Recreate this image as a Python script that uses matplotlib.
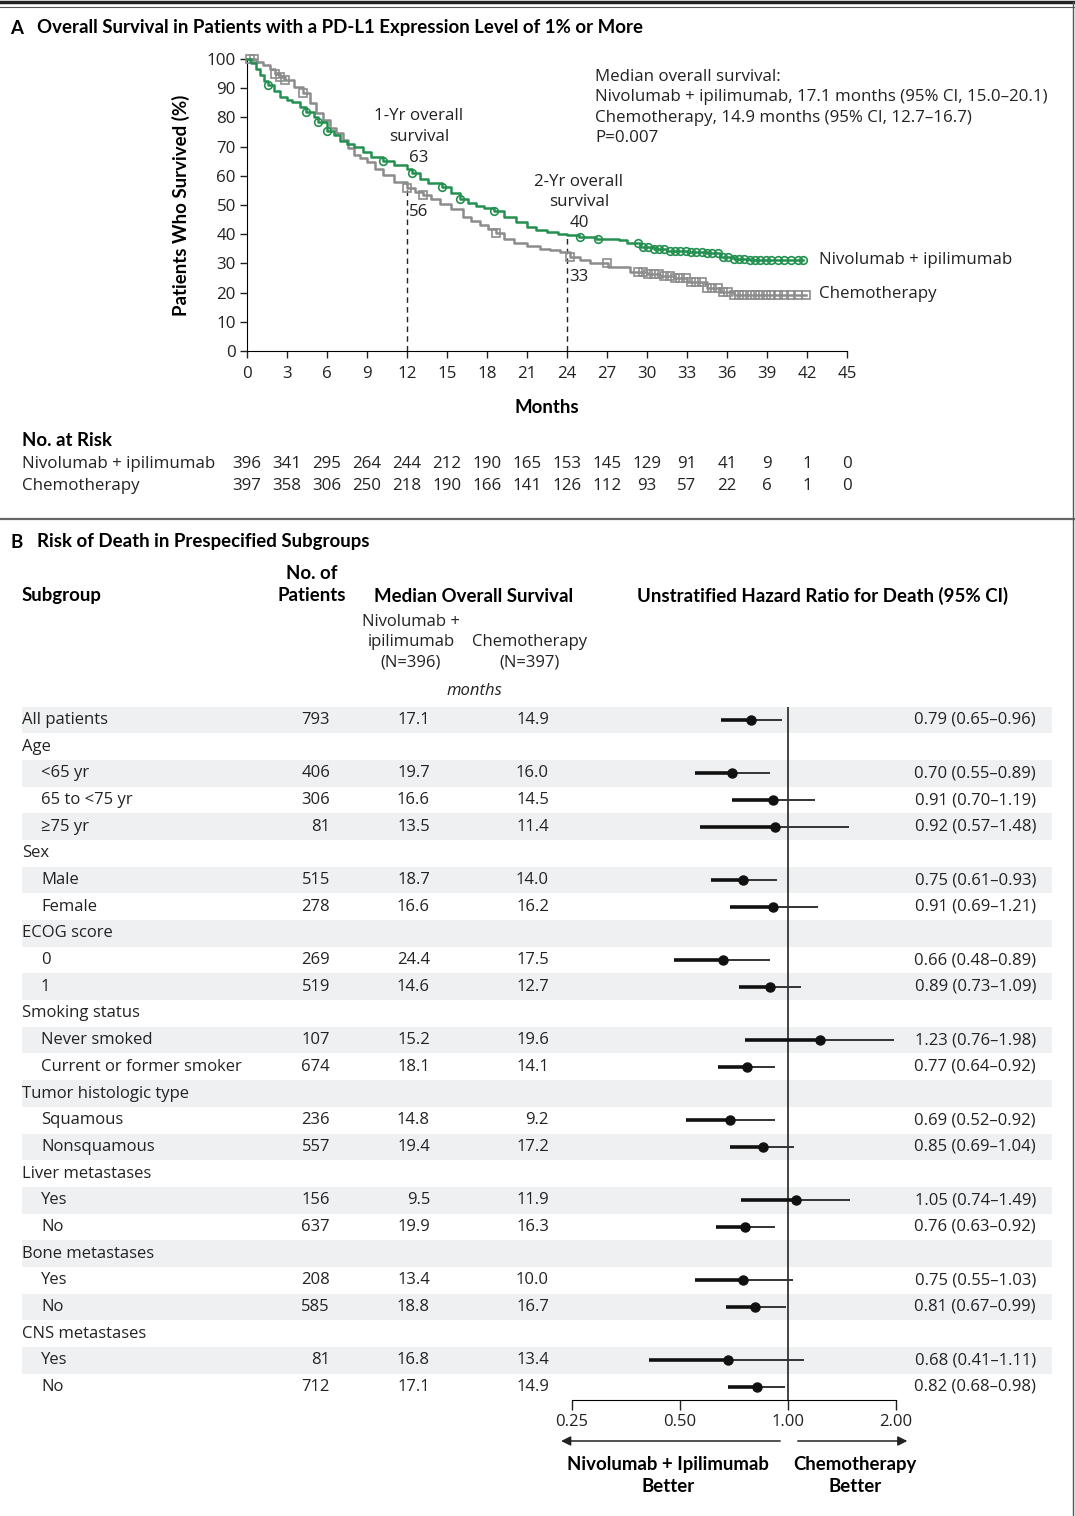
import numpy as np
import matplotlib
matplotlib.use("Agg")
import matplotlib.pyplot as plt
import matplotlib.transforms as mtransforms

plt.rcParams['font.family'] = ['Open Sans', 'DejaVu Sans']

W, H = 1075, 1516


def fx(px):
    return px / W


def fy(py):
    return 1 - py / H


# ---- panel A data ----
nivo_t = [0, 0.3, 0.7, 1.0, 1.3, 1.6, 2.0, 2.5, 3.0, 3.4, 4.0, 4.4, 5.0, 5.3, 6.0, 6.5,
          7.0, 7.5, 8.0, 8.7, 9.3, 10.2, 11.0, 12.0, 12.4, 13.0, 13.6, 14.6, 15.3, 16.0,
          16.6, 17.2, 17.8, 18.5, 19.3, 20.2, 21.0, 21.7, 22.5, 23.3, 24.0, 24.9, 26.2,
          27.9, 28.5, 29.5, 30.5, 31.5, 33.0, 34.5, 35.5, 36.5, 37.7, 41.7]
nivo_s = [100, 98.5, 96.5, 94.5, 92.5, 91.1, 89, 87, 86, 85.4, 83.5, 82, 80, 78.5, 75.5, 74,
          72, 71, 70, 68.2, 66.5, 65.2, 63.8, 62.5, 60.8, 59, 57.5, 56.3, 54, 52,
          50.8, 49.8, 49, 48, 46, 44.3, 42.5, 41.4, 40.6, 40.2, 39.7, 39.1, 38.4,
          38, 36.9, 35.7, 35.0, 34.2, 33.8, 33.4, 32.3, 31.6, 31.2, 31.2]
chemo_t = [0, 0.7, 1.2, 1.7, 2.1, 2.5, 2.85, 3.5, 4.2, 4.7, 5.2, 5.7, 6.2, 6.7, 7.2, 7.6,
           8.0, 8.5, 9.0, 9.6, 10.2, 11.0, 12.0, 12.6, 13.2, 13.8, 14.5, 15.3, 16.2, 16.8,
           17.5, 18.1, 18.7, 19.3, 20.0, 21.0, 22.0, 22.7, 23.5, 24.2, 25.0, 25.7, 27.1,
           28.7, 30.0, 31.0, 32.0, 33.0, 34.5, 35.5, 36.5, 41.9]
chemo_s = [100, 99, 98, 96.5, 95, 94, 92.8, 90.5, 88.2, 85, 81.4, 79, 76.3, 74.5, 72.3, 69.5,
           67.1, 66, 64.8, 62.5, 60.3, 58, 55.7, 54.5, 53.4, 52, 50.5, 48.5, 46, 44.5,
           43.2, 41.8, 40.3, 38.5, 37.1, 36, 35.1, 34.6, 34, 32.1, 31, 30, 28.9,
           27.2, 26.4, 25.8, 24.9, 23.5, 21.5, 20.3, 19.2, 19.2]
nivo_cens = [1.6, 4.4, 5.3, 6.0, 10.2, 12.4, 14.6, 16.0, 18.5, 25.0, 26.3, 29.3, 29.7,
             30.1, 30.5, 30.9, 31.3, 31.7, 32.1, 32.5, 32.9, 33.3, 33.7, 34.1, 34.5, 34.9,
             35.3, 35.7, 36.1, 36.5, 36.9, 37.3, 37.7, 38.1, 38.5, 38.9, 39.3, 39.8, 40.3,
             40.8, 41.3, 41.7]
chemo_cens = [0.2, 0.5, 2.1, 2.5, 2.85, 4.2, 12.0, 13.2, 18.7, 24.2, 27.0, 29.3, 29.7,
              30.1, 30.5, 30.9, 31.3, 31.7, 32.1, 32.5, 32.9, 33.3, 33.7, 34.1, 34.5, 34.9,
              35.3, 35.7, 36.1, 36.5, 36.9, 37.3, 37.7, 38.1, 38.5, 38.9, 39.3, 39.8, 40.3,
              40.8, 41.3, 41.9]

risk_months = [0, 3, 6, 9, 12, 15, 18, 21, 24, 27, 30, 33, 36, 39, 42, 45]
risk_nivo = [396, 341, 295, 264, 244, 212, 190, 165, 153, 145, 129, 91, 41, 9, 1, 0]
risk_chemo = [397, 358, 306, 250, 218, 190, 166, 141, 126, 112, 93, 57, 22, 6, 1, 0]

# ---- panel B data ----
labels = ["All patients", "Age", "<65 yr", "65 to <75 yr", "\u226575 yr", "Sex", "Male",
          "Female", "ECOG score", "0", "1", "Smoking status", "Never smoked",
          "Current or former smoker", "Tumor histologic type", "Squamous", "Nonsquamous",
          "Liver metastases", "Yes", "No", "Bone metastases", "Yes", "No",
          "CNS metastases", "Yes", "No"]
indent = [0, 0, 1, 1, 1, 0, 1, 1, 0, 1, 1, 0, 1, 1, 0, 1, 1, 0, 1, 1, 0, 1, 1, 0, 1, 1]
n_pts = ["793", "", "406", "306", "81", "", "515", "278", "", "269", "519", "", "107", "674",
         "", "236", "557", "", "156", "637", "", "208", "585", "", "81", "712"]
med_nivo = ["17.1", "", "19.7", "16.6", "13.5", "", "18.7", "16.6", "", "24.4", "14.6", "",
            "15.2", "18.1", "", "14.8", "19.4", "", "9.5", "19.9", "", "13.4", "18.8", "",
            "16.8", "17.1"]
med_chemo = ["14.9", "", "16.0", "14.5", "11.4", "", "14.0", "16.2", "", "17.5", "12.7", "",
             "19.6", "14.1", "", "9.2", "17.2", "", "11.9", "16.3", "", "10.0", "16.7", "",
             "13.4", "14.9"]
hr = [0.79, None, 0.70, 0.91, 0.92, None, 0.75, 0.91, None, 0.66, 0.89, None, 1.23, 0.77,
      None, 0.69, 0.85, None, 1.05, 0.76, None, 0.75, 0.81, None, 0.68, 0.82]
ci_lo = [0.65, None, 0.55, 0.70, 0.57, None, 0.61, 0.69, None, 0.48, 0.73, None, 0.76, 0.64,
         None, 0.52, 0.69, None, 0.74, 0.63, None, 0.55, 0.67, None, 0.41, 0.68]
ci_hi = [0.96, None, 0.89, 1.19, 1.48, None, 0.93, 1.21, None, 0.89, 1.09, None, 1.98, 0.92,
         None, 0.92, 1.04, None, 1.49, 0.92, None, 1.03, 0.99, None, 1.11, 0.98]

green = '#23904f'
gray = '#8c8c8c'
txt = '#222222'
fs = 12          # table text
fsa = 12.2       # panel A text
fsh = 13.4       # bold headers
bold_font = ['Lato', 'DejaVu Sans']

fig = plt.figure(figsize=(W / 100, H / 100), dpi=100)

# frame lines
fig.add_artist(plt.Line2D([0, 1], [fy(2), fy(2)], color='#222222', lw=2.5))
fig.add_artist(plt.Line2D([0, 1], [fy(7), fy(7)], color='#555555', lw=0.8))
fig.add_artist(plt.Line2D([0, 1], [fy(519), fy(519)], color='#666666', lw=1.6))
fig.add_artist(plt.Line2D([fx(1073), fx(1073)], [0, fy(2)], color='#555555', lw=1.0))

# ---- Panel A ----
fig.text(fx(10), fy(28), "A", fontsize=fsh, fontweight='bold', family=bold_font, va='center')
fig.text(fx(37), fy(28), "Overall Survival in Patients with a PD-L1 Expression Level of 1% or More",
         fontsize=fsh, fontweight='bold', family=bold_font, va='center')

ax = fig.add_axes([fx(247), fy(351), fx(847) - fx(247), fy(59) - fy(351)])
ax.step(chemo_t, chemo_s, where='post', color=gray, lw=1.8, clip_on=False, zorder=3)
ax.step(nivo_t, nivo_s, where='post', color=green, lw=1.8, clip_on=False, zorder=4)
c_idx = np.searchsorted(chemo_t, chemo_cens, side='right') - 1
n_idx = np.searchsorted(nivo_t, nivo_cens, side='right') - 1
ax.plot(chemo_cens, np.array(chemo_s)[c_idx], ls='none', marker='s', ms=5.5, mfc='none',
        mec=gray, mew=1.2, clip_on=False, zorder=3)
ax.plot(nivo_cens, np.array(nivo_s)[n_idx], ls='none', marker='o', ms=5.5, mfc='none',
        mec=green, mew=1.2, clip_on=False, zorder=4)

ax.plot([12, 12], [0, 56], color='#222222', lw=1, ls=(0, (4, 3)))
ax.plot([24, 24], [0, 39], color='#222222', lw=1, ls=(0, (4, 3)))
ax.text(12.9, 73.3, "1-Yr overall\nsurvival\n63", ha='center', va='center', fontsize=fsa,
        linespacing=1.38, color=txt)
ax.text(12.15, 47.6, "56", ha='left', va='center', fontsize=fsa, color=txt)
ax.text(24.9, 51, "2-Yr overall\nsurvival\n40", ha='center', va='center', fontsize=fsa,
        linespacing=1.38, color=txt)
ax.text(24.15, 25.3, "33", ha='left', va='center', fontsize=fsa, color=txt)
ax.text(26.1, 83.4, "Median overall survival:\nNivolumab + ipilimumab, 17.1 months (95% CI, 15.0\u201320.1)\n"
        "Chemotherapy, 14.9 months (95% CI, 12.7\u201316.7)\nP=0.007", ha='left', va='center',
        fontsize=fsa, linespacing=1.38, color=txt)
ax.text(42.9, 31.2, "Nivolumab + ipilimumab", ha='left', va='center', fontsize=fsa, color=txt)
ax.text(42.9, 19.5, "Chemotherapy", ha='left', va='center', fontsize=fsa, color=txt)

ax.set_xlim(0, 45)
ax.set_ylim(0, 100)
ax.set_xticks(range(0, 46, 3))
ax.set_yticks(range(0, 101, 10))
ax.spines['top'].set_visible(False)
ax.spines['right'].set_visible(False)
ax.tick_params(axis='x', direction='out', length=5, width=1, labelsize=fsa, pad=6, colors=txt)
ax.tick_params(axis='y', direction='out', length=5, width=1, labelsize=fsa, pad=3, colors=txt)
ax.set_xlabel("Months", fontsize=fsh, fontweight='bold', family=bold_font, labelpad=12)
ax.set_ylabel("Patients Who Survived (%)", fontsize=fsh, fontweight='bold', family=bold_font,
              labelpad=12)

# number at risk
tr = mtransforms.blended_transform_factory(ax.transData, fig.transFigure)
fig.text(fx(22), fy(440), "No. at Risk", fontsize=fsh, fontweight='bold', family=bold_font,
         va='center')
fig.text(fx(22), fy(464), "Nivolumab + ipilimumab", fontsize=fsa, va='center', color=txt)
fig.text(fx(22), fy(486), "Chemotherapy", fontsize=fsa, va='center', color=txt)
for m, a, b in zip(risk_months, risk_nivo, risk_chemo):
    ax.text(m, fy(464), str(a), transform=tr, ha='center', va='center', fontsize=fsa, color=txt)
    ax.text(m, fy(486), str(b), transform=tr, ha='center', va='center', fontsize=fsa, color=txt)

# ---- Panel B ----
fig.text(fx(10), fy(542), "B", fontsize=fsh, fontweight='bold', family=bold_font, va='center')
fig.text(fx(37), fy(542), "Risk of Death in Prespecified Subgroups", fontsize=fsh,
         fontweight='bold', family=bold_font, va='center')
fig.text(fx(22), fy(596), "Subgroup", fontsize=fsh, fontweight='bold', family=bold_font, va='center')
fig.text(fx(312), fy(584.5), "No. of\nPatients", fontsize=fsh, fontweight='bold', family=bold_font,
         ha='center', va='center', linespacing=1.3)
fig.text(fx(474), fy(596), "Median Overall Survival", fontsize=fsh, fontweight='bold',
         family=bold_font, ha='center', va='center')
fig.text(fx(823), fy(596), "Unstratified Hazard Ratio for Death (95% CI)", fontsize=fsh,
         fontweight='bold', family=bold_font, ha='center', va='center')
fig.text(fx(411), fy(642), "Nivolumab +\nipilimumab\n(N=396)", fontsize=fs, ha='center',
         va='center', linespacing=1.35, color=txt)
fig.text(fx(530), fy(652.5), "Chemotherapy\n(N=397)", fontsize=fs, ha='center', va='center',
         linespacing=1.35, color=txt)
fig.text(fx(474), fy(691), "months", fontsize=fs, style='italic', ha='center', va='center',
         color=txt)

nrow = len(labels)
row_h = 26.68
top_px = 720 - row_h / 2
bot_px = top_px + nrow * row_h

axt = fig.add_axes([0, fy(bot_px), 1, fy(top_px) - fy(bot_px)], zorder=1)
axt.set_xlim(0, W)
axt.set_ylim(nrow - 0.5, -0.5)
axt.axis('off')
for i in range(nrow):
    if i % 2 == 0:
        axt.axhspan(i - 0.5, i + 0.5, xmin=fx(22), xmax=fx(1052), color='#eff0f2', lw=0)
    axt.text(22 + 19 * indent[i], i, labels[i], va='center', fontsize=fs, color=txt)
    axt.text(330, i, n_pts[i], va='center', ha='right', fontsize=fs, color=txt)
    axt.text(430, i, med_nivo[i], va='center', ha='right', fontsize=fs, color=txt)
    axt.text(549, i, med_chemo[i], va='center', ha='right', fontsize=fs, color=txt)
    if hr[i] is not None:
        axt.text(1036, i, "%.2f (%.2f\u2013%.2f)" % (hr[i], ci_lo[i], ci_hi[i]), va='center',
                 ha='right', fontsize=fs, color=txt)

axf = fig.add_axes([fx(572), fy(bot_px), fx(896) - fx(572), fy(top_px) - fy(bot_px)], zorder=2)
axf.patch.set_alpha(0)
axf.set_xscale('log', base=2)
axf.set_xlim(0.25, 2.0)
axf.set_ylim(nrow - 0.5, -0.5)
axf.axvline(1.0, color='#111111', lw=1.1)
for i in range(nrow):
    if hr[i] is None:
        continue
    axf.plot([ci_lo[i], hr[i]], [i, i], color='#111111', lw=2.6, solid_capstyle='butt', clip_on=False)
    axf.plot([hr[i], ci_hi[i]], [i, i], color='#333333', lw=1.4, solid_capstyle='butt', clip_on=False)
    axf.plot(hr[i], i, 'o', color='#111111', ms=6.5, clip_on=False)
for s in ['top', 'right', 'left']:
    axf.spines[s].set_visible(False)
axf.set_yticks([])
axf.set_xticks([0.25, 0.5, 1.0, 2.0])
axf.set_xticklabels(["0.25", "0.50", "1.00", "2.00"])
axf.minorticks_off()
axf.tick_params(axis='x', direction='out', length=7, width=1, labelsize=fs, pad=3, colors=txt)

trf = mtransforms.blended_transform_factory(axf.transData, fig.transFigure)
arrow_kw = dict(arrowstyle='-|>', color='#222222', lw=1.1, mutation_scale=14)
axf.annotate('', xy=(0.229, fy(1441)), xytext=(0.968, fy(1441)), xycoords=trf, textcoords=trf,
             arrowprops=arrow_kw, annotation_clip=False)
axf.annotate('', xy=(2.19, fy(1441)), xytext=(1.046, fy(1441)), xycoords=trf, textcoords=trf,
             arrowprops=arrow_kw, annotation_clip=False)
fig.text(fx(668), fy(1475.5), "Nivolumab + Ipilimumab\nBetter", fontsize=fsh, fontweight='bold',
         family=bold_font, ha='center', va='center', linespacing=1.3)
fig.text(fx(855), fy(1475.5), "Chemotherapy\nBetter", fontsize=fsh, fontweight='bold',
         family=bold_font, ha='center', va='center', linespacing=1.3)

fig.savefig("out.png", dpi=100)
